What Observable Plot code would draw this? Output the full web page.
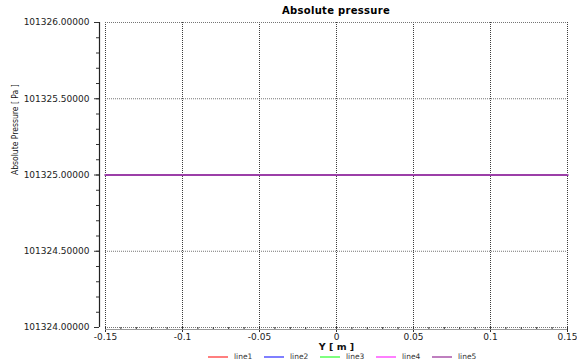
<!DOCTYPE html>
<html>
<head>
<meta charset="utf-8">
<script src="https://cdn.jsdelivr.net/npm/d3@7"></script>
<script src="https://cdn.jsdelivr.net/npm/@observablehq/plot@0.6"></script>
<style>
  body { margin: 0; background: white; font-family: "DejaVu Sans", sans-serif; }
  #wrap { position: relative; width: 577px; height: 362px; overflow: hidden; }
  #title { position: absolute; left: 105px; width: 462px; top: 5px; text-align: center; font: bold 10px "DejaVu Sans"; letter-spacing: 0.3px; color: #000; }
  #chart { position: absolute; left: 0; top: 16px; }
  #chart svg { overflow: visible; }
  #legend { position: absolute; left: 208px; top: 352px; display: flex; font: 7.5px "DejaVu Sans"; color: #333; }
  .item { display: flex; align-items: center; width: 56px; }
  .sw { width: 20px; height: 2px; margin-right: 6px; }
</style>
</head>
<body>
<div id="wrap">
  <div id="title">Absolute pressure</div>
  <div id="chart"></div>
  <div id="legend"></div>
</div>
<script>
const seriesNames = ["line1", "line2", "line3", "line4", "line5"];
const seriesColors = ["#ff7f7f", "#7f7fff", "#7fff7f", "#ff7fff", "#9c3fa8"];
const legendColors = ["#ff7f7f", "#7f7fff", "#7fff7f", "#ff7fff", "#bf7fbf"];
const xValues = [-0.15, 0.15];
const line1 = [101325, 101325];
const line2 = [101325, 101325];
const line3 = [101325, 101325];
const line4 = [101325, 101325];
const line5 = [101325, 101325];
const xTicks = [-0.15, -0.1, -0.05, 0, 0.05, 0.1, 0.15];
const xTickLabels = ["-0.15", "-0.1", "-0.05", "0", "0.05", "0.1", "0.15"];
const xMinor = d3.range(-15, 16).map(i => i / 100);
const yTicks = [101324, 101324.5, 101325, 101325.5, 101326];
const yTickLabels = ["101324.00000", "101324.50000", "101325.00000", "101325.50000", "101326.00000"];
const yMinor = d3.range(0, 21).map(i => 101324 + i / 10);

const allSeries = [line1, line2, line3, line4, line5];
const data = [];
allSeries.forEach((vals, si) => vals.forEach((v, i) => data.push({x: xValues[i], y: v, s: seriesNames[si]})));

const font = "DejaVu Sans";
const plot = Plot.plot({
  width: 577,
  height: 336,
  marginLeft: 105,
  marginRight: 10,
  marginTop: 6,
  marginBottom: 25,
  style: {fontFamily: font, fontSize: "9px", color: "#222", background: "transparent"},
  x: {domain: [-0.15, 0.15]},
  y: {domain: [101324, 101326]},
  color: {domain: seriesNames, range: seriesColors},
  marks: [
    Plot.gridX(xTicks, {stroke: "#333", strokeOpacity: 0.95, strokeDasharray: "1,1"}),
    Plot.gridY(yTicks, {stroke: "#666", strokeOpacity: 0.9, strokeDasharray: "1,1"}),
    Plot.axisY(yTicks, {tickSize: 5, tickPadding: 5, dx: -6, tickFormat: (d, i) => yTickLabels[yTicks.indexOf(d)], label: null, stroke: "#333"}),
    Plot.axisY(yMinor, {tickSize: 3, dx: -6, tickFormat: () => "", label: null, stroke: "#333"}),
    Plot.ruleX([-0.15], {dx: -6, stroke: "#222", strokeWidth: 1.2}),
    Plot.axisX(xTicks, {tickSize: 5, tickPadding: 1, tickFormat: d => xTickLabels[xTicks.indexOf(d)], label: null, stroke: "#333"}),
    Plot.axisX(xMinor, {tickSize: 3, tickFormat: () => "", label: null, stroke: "#333"}),
    Plot.ruleY([101324], {stroke: "#999", dy: 2}),
    Plot.line(data, {x: "x", y: "y", z: "s", stroke: "s", strokeWidth: 1.8}),
    Plot.text(["Y [ m ]"], {frameAnchor: "bottom", dy: 22, fontWeight: "bold", fontSize: 9.5, fill: "#111"}),
    Plot.text(["Absolute Pressure [ Pa ]"], {frameAnchor: "left", dx: -90, rotate: -90, fontSize: 8.5, fontFamily: "DejaVu Sans Condensed", fill: "#111"})
  ]
});
document.getElementById("chart").appendChild(plot);

const legend = document.getElementById("legend");
seriesNames.forEach((n, i) => {
  const it = document.createElement("div");
  it.className = "item";
  const sw = document.createElement("div");
  sw.className = "sw";
  sw.style.background = legendColors[i];
  const t = document.createElement("span");
  t.textContent = n;
  it.appendChild(sw); it.appendChild(t);
  legend.appendChild(it);
});
</script>
</body>
</html>
